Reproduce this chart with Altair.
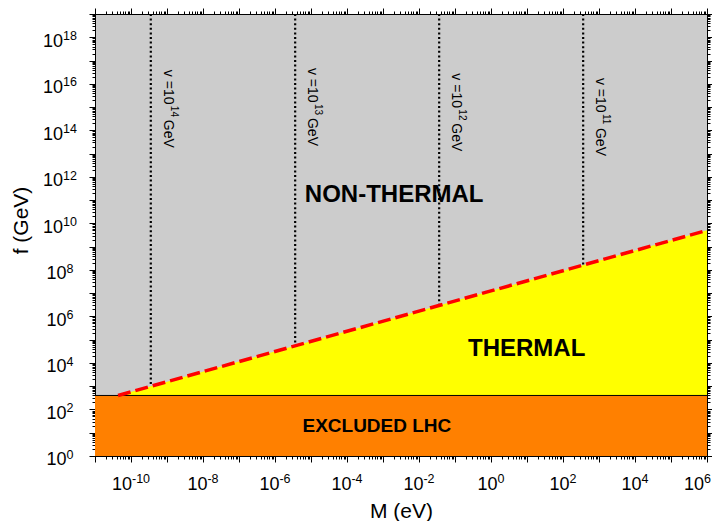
import altair as alt
import pandas as pd

FONT = "Liberation Sans, Arial, Helvetica, sans-serif"

# ---- data ----
M_dom = [1e-11, 1e6]          # M (eV) axis range
f_dom = [1e0, 1e19]           # f (GeV) axis range
f_lhc = 400                   # LHC exclusion boundary (GeV)

M_line = [10 ** -10.36, 1e6]  # thermal / non-thermal boundary (dashed red)
f_line = [400, 10 ** 9.7]

v_exp = ["14", "13", "12", "11"]      # v = 10^x GeV labels
M_v = [10 ** -9.45, 10 ** -5.44, 10 ** -1.44, 10 ** 2.56]
f_v_end = [10 ** 3.0, 10 ** 4.73, 10 ** 6.48, 10 ** 8.21]
f_v_label = [10 ** 16.6, 10 ** 16.68, 10 ** 16.45, 10 ** 16.25]

region_text = ["NON-THERMAL", "THERMAL", "EXCLUDED LHC"]
region_M = [10 ** -2.69, 10 ** 0.99, 10 ** -3.17]
region_f = [10 ** 11.24, 10 ** 4.61, 10 ** 1.30]

x_major_labels = list(range(-10, 7, 2))
y_major_labels = list(range(0, 19, 2))

# ---- layout ----
W, H = 612, 442
PAD = {"left": 87, "top": 6, "right": 5, "bottom": 65}
BASE_FS, EXP_FS = 18, 12.5
X_DECADES = 17.0

# ---- tables ----
rect_df = pd.DataFrame({"M0": [M_dom[0]], "M1": [M_dom[1]],
                        "f0": [f_dom[0]], "f1": [f_lhc]})
line_df = pd.DataFrame({"M": M_line, "f": f_line, "flo": [f_lhc] * len(M_line)})
v_df = pd.DataFrame({"M": M_v, "ftop": [f_dom[1]] * len(M_v), "fend": f_v_end,
                     "flab": f_v_label, "exp": v_exp})
reg_df = pd.DataFrame({"M": region_M, "f": region_f, "label": region_text})
xlab_df = pd.DataFrame({"e": x_major_labels, "fb": [f_dom[0]] * len(x_major_labels)})
ylab_df = pd.DataFrame({"e": y_major_labels})

# tick positions (log minor ticks)
x_ticks = [m * 10.0 ** e for e in range(-11, 6) for m in range(1, 10)] + [1e6]
y_ticks = [m * 10.0 ** e for e in range(0, 19) for m in range(1, 10)] + [1e19]

LOGV = "(log(datum.value)/LN10)"
IS_DEC = f"abs({LOGV} - round({LOGV})) < 0.001"
tick_size = {"condition": {"test": IS_DEC, "value": 6}, "value": 3}

xscale = alt.Scale(type="log", domain=M_dom, nice=False)
yscale = alt.Scale(type="log", domain=f_dom, nice=False)

common_axis = dict(grid=False, domainColor="black", tickColor="black",
                   tickWidth=1, tickSize=tick_size, labels=False)

x_axis_main = alt.Axis(orient="bottom", values=x_ticks, title="M (eV)", titleY=61,
                       titleBaseline="alphabetic", **common_axis)
y_axis_main = alt.Axis(orient="left", values=y_ticks, title="f (GeV)", titleX=-68, titleY=206,
                       titleBaseline="alphabetic", **common_axis)
x_axis_top = alt.Axis(orient="top", values=x_ticks, title="", **common_axis)
y_axis_right = alt.Axis(orient="right", values=y_ticks, title="", **common_axis)

orange = alt.Chart(rect_df).mark_rect(color="#ff8000").encode(
    x=alt.X("M0:Q", scale=xscale, axis=x_axis_main),
    x2="M1:Q",
    y=alt.Y("f0:Q", scale=yscale, axis=y_axis_main),
    y2="f1:Q",
)

mirror = alt.Chart(rect_df).mark_rule(opacity=0).encode(
    x=alt.X("M0:Q", scale=xscale, axis=x_axis_top),
    y=alt.Y("f0:Q", scale=yscale, axis=y_axis_right),
)

yellow = alt.Chart(line_df).mark_area(color="#ffff00", opacity=1).encode(
    x=alt.X("M:Q", scale=xscale, axis=None),
    y=alt.Y("f:Q", scale=yscale, axis=None),
    y2="flo:Q",
)

lhc_rule = alt.Chart(rect_df).mark_rule(color="black", strokeWidth=1).encode(
    x=alt.X("M0:Q", scale=xscale, axis=None),
    x2="M1:Q",
    y=alt.Y("f1:Q", scale=yscale, axis=None),
)

vlines = alt.Chart(v_df).mark_rule(color="black", strokeWidth=2.2, strokeDash=[2, 2.6]).encode(
    x=alt.X("M:Q", scale=xscale, axis=None),
    y=alt.Y("ftop:Q", scale=yscale, axis=None),
    y2="fend:Q",
)

red = alt.Chart(line_df).mark_line(color="#ff0000", strokeWidth=3.5, strokeDash=[13, 5]).encode(
    x=alt.X("M:Q", scale=xscale, axis=None),
    y=alt.Y("f:Q", scale=yscale, axis=None),
)


def vlabel(calc, fs, dx, dy):
    return alt.Chart(v_df).transform_calculate(t=calc).mark_text(
        angle=90, align="left", baseline="alphabetic", dx=dx, dy=dy,
        fontSize=fs, font=FONT, color="black").encode(
        x=alt.X("M:Q", scale=xscale, axis=None),
        y=alt.Y("flab:Q", scale=yscale, axis=None),
        text="t:N",
    )


v_base = vlabel("'v =10'", 14, 0, -13)
v_sup = vlabel("datum.exp", 10, 36, -20)
v_gev = vlabel("'GeV'", 14, 50, -13)

big_text = alt.Chart(reg_df).transform_filter(alt.datum.label != "EXCLUDED LHC").mark_text(
    fontSize=24, fontWeight="bold", font=FONT, color="black", baseline="middle").encode(
    x=alt.X("M:Q", scale=xscale, axis=None),
    y=alt.Y("f:Q", scale=yscale, axis=None),
    text="label:N",
)

lhc_text = alt.Chart(reg_df).transform_filter(alt.datum.label == "EXCLUDED LHC").mark_text(
    fontSize=19, fontWeight="bold", font=FONT, color="black", baseline="middle").encode(
    x=alt.X("M:Q", scale=xscale, axis=None),
    y=alt.Y("f:Q", scale=yscale, axis=None),
    text="label:N",
)

# ---- tick labels "10" + superscript exponent, whole label centred ----
W10 = 2 * 0.556 * BASE_FS
PX_PER_DEC_X = W / X_DECADES
LOG_XMAX = 6
exp_calc = dict(
    s="toString(datum.e)",
    w=f"(length(toString(datum.e)) * 0.556 - (datum.e < 0 ? 0.223 : 0)) * {EXP_FS}",
)
x_lab_base = alt.Chart(xlab_df).transform_calculate(**exp_calc).transform_calculate(
    # keep the label inside the canvas at the right edge
    shift=f"min(({W10} - datum.w) / 2, ({LOG_XMAX} - datum.e) * {PX_PER_DEC_X} + {PAD['right']} - 1 - datum.w)",
).transform_calculate(
    ax=f"pow(10, datum.e + datum.shift / {PX_PER_DEC_X})", t="'10'"
)
x_ten = x_lab_base.mark_text(align="right", baseline="alphabetic", dy=34,
                             fontSize=BASE_FS, font=FONT, color="black").encode(
    x=alt.X("ax:Q", scale=xscale, axis=None),
    y=alt.Y("fb:Q", scale=yscale, axis=None),
    text="t:N",
)
x_sup = x_lab_base.mark_text(align="left", baseline="alphabetic", dy=27.3,
                             fontSize=EXP_FS, font=FONT, color="black").encode(
    x=alt.X("ax:Q", scale=xscale, axis=None),
    y=alt.Y("fb:Q", scale=yscale, axis=None),
    text="s:N",
)

y_lab_base = alt.Chart(ylab_df).transform_calculate(**exp_calc).transform_calculate(
    px=f"-35 + ({W10} - datum.w) / 2", fv="pow(10, datum.e)", t="'10'"
)
y_ten = y_lab_base.mark_text(align="right", baseline="alphabetic", dy=9.4,
                             fontSize=BASE_FS, font=FONT, color="black").encode(
    x=alt.X("px:Q", scale=None, axis=None),
    y=alt.Y("fv:Q", scale=yscale, axis=None),
    text="t:N",
)
y_sup = y_lab_base.mark_text(align="left", baseline="alphabetic", dy=2.7,
                             fontSize=EXP_FS, font=FONT, color="black").encode(
    x=alt.X("px:Q", scale=None, axis=None),
    y=alt.Y("fv:Q", scale=yscale, axis=None),
    text="s:N",
)

chart = alt.layer(
    orange, mirror, yellow, lhc_rule, vlines, red, v_base, v_sup, v_gev,
    big_text, lhc_text, x_ten, x_sup, y_ten, y_sup
).resolve_axis(
    x="independent", y="independent"
).properties(
    width=W, height=H,
    autosize=alt.AutoSizeParams(type="none"),
    padding=PAD,
).configure_view(
    fill="#cccccc", stroke="black", strokeWidth=1
).configure_axis(
    labelFont=FONT, titleFont=FONT, labelFontSize=18, titleFontSize=21,
    titleFontWeight="normal", labelColor="black", titleColor="black",
)

chart.save("out.html", embed_options={"renderer": "svg", "actions": False})
